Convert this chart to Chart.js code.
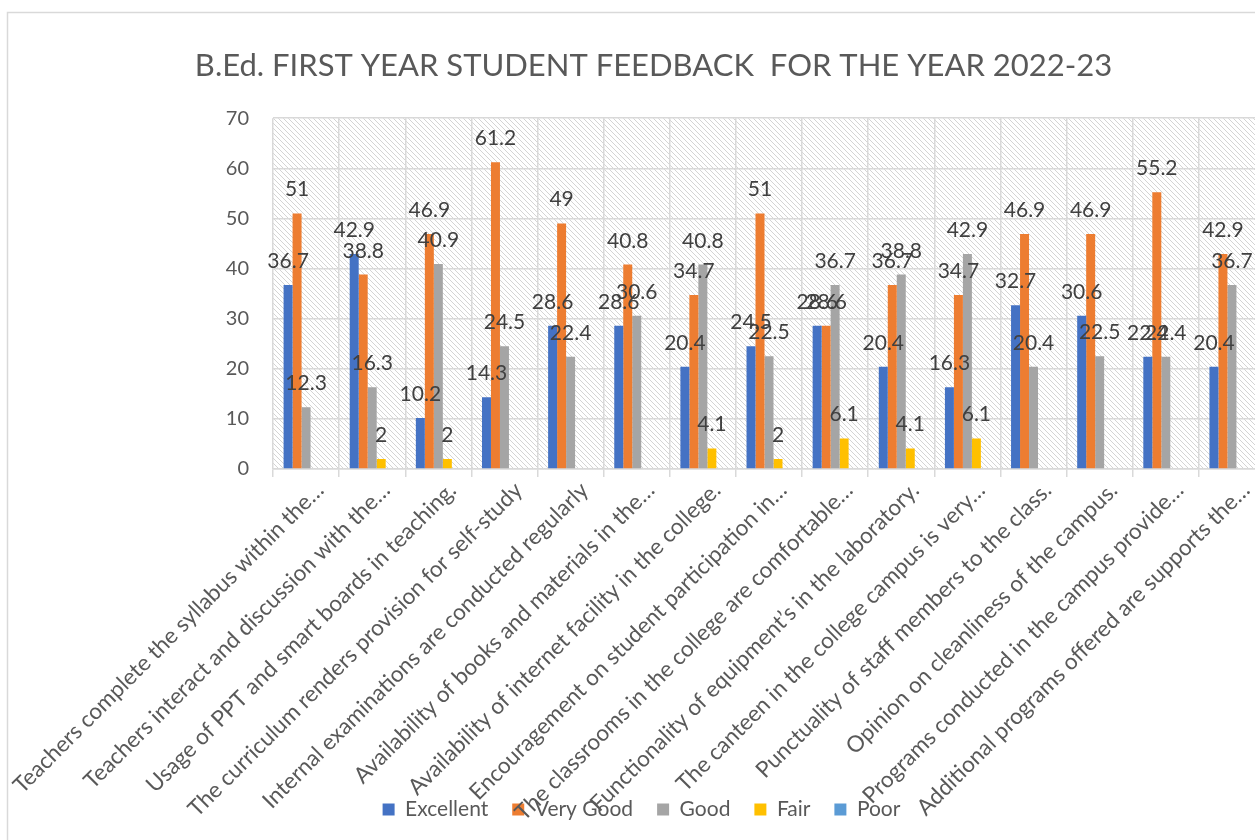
<!DOCTYPE html>
<html>
<head>
<meta charset="utf-8">
<script src="https://cdn.jsdelivr.net/npm/chart.js@4.4.1/dist/chart.umd.min.js"></script>
<style>
  html, body { margin: 0; padding: 0; overflow: hidden; background: #fff; }
  #wrap { width: 1300px; height: 840px; }
</style>
</head>
<body>
<div id="wrap"><canvas id="myChart"></canvas></div>
<script>
const categories = [
  "Teachers complete the syllabus within the…",
  "Teachers interact and discussion with the…",
  "Usage of PPT and smart boards in teaching.",
  "The curriculum renders provision for self-study",
  "Internal examinations are conducted regularly",
  "Availability of books and materials in the…",
  "Availability of internet facility in the college.",
  "Encouragement on student participation in…",
  "The classrooms in the college are comfortable…",
  "Functionality of equipment’s in the laboratory.",
  "The canteen in the college campus is very…",
  "Punctuality of staff members to the class.",
  "Opinion on cleanliness of the campus.",
  "Programs conducted in the campus provide…",
  "Additional programs offered are supports the…"
];
const excellent = [36.7, 42.9, 10.2, 14.3, 28.6, 28.6, 20.4, 24.5, 28.6, 20.4, 16.3, 32.7, 30.6, 22.4, 20.4];
const veryGood = [51, 38.8, 46.9, 61.2, 49, 40.8, 34.7, 51, 28.6, 36.7, 34.7, 46.9, 46.9, 55.2, 42.9];
const good = [12.3, 16.3, 40.9, 24.5, 22.4, 30.6, 40.8, 22.5, 36.7, 38.8, 42.9, 20.4, 22.5, 22.4, 36.7];
const fair = [0, 2, 2, 0, 0, 0, 4.1, 2, 6.1, 4.1, 6.1, 0, 0, 0, 0];
const poor = [0, 0, 0, 0, 0, 0, 0, 0, 0, 0, 0, 0, 0, 0, 0];
const yTicks = [0, 10, 20, 30, 40, 50, 60, 70];

const FONT = "Lato, 'Noto Sans', sans-serif";
const TEXT = "#595959";
const GRID = "#d9d9d9";
const BOTTOM_PAD = 10;

// hatched plot background, lines like "\\\"
const makeHatch = () => {
  const c = document.createElement("canvas");
  c.width = 5;
  c.height = 5;
  const g = c.getContext("2d");
  g.fillStyle = "#fff";
  g.fillRect(0, 0, 5, 5);
  g.fillStyle = "#d4d4d4";
  for (let i = 0; i < 5; i++) g.fillRect(i, i, 1, 1);
  return g.createPattern(c, "repeat");
};

const hatchPlugin = {
  id: "hatch",
  afterLayout(chart) {
    // let the rotated labels run down over the legend, like the original
    chart.scales.x.bottom = chart.height;
    // Excel centres title / legend a bit to the right of ours
    chart.titleBlock.left += 21;
    chart.titleBlock.right += 21;
    chart.legend.left += 9;
    chart.legend.right += 9;
  },
  beforeDraw(chart) {
    const { ctx, chartArea: a } = chart;
    ctx.save();
    ctx.fillStyle = makeHatch();
    ctx.fillRect(a.left, a.top, a.right - a.left, a.bottom - a.top);
    ctx.restore();
  },
  afterDraw(chart) {
    // outer chart frame
    const ctx = chart.ctx;
    ctx.save();
    ctx.strokeStyle = GRID;
    ctx.lineWidth = 1.5;
    ctx.strokeRect(7.5, 12.5, 1400, 1000);
    ctx.restore();
  }
};

const valueLabels = {
  id: "valueLabels",
  afterDatasetsDraw(chart) {
    const ctx = chart.ctx;
    ctx.save();
    ctx.font = "21px " + FONT;
    ctx.fillStyle = "#404040";
    ctx.textAlign = "center";
    ctx.textBaseline = "alphabetic";
    chart.data.datasets.forEach((ds, i) => {
      const meta = chart.getDatasetMeta(i);
      meta.data.forEach((bar, j) => {
        const v = ds.data[j];
        if (!v) return;
        ctx.fillText(String(v), bar.x, bar.y - 17);
      });
    });
    ctx.restore();
  }
};

const data = {
  labels: categories,
  datasets: [
    { label: "Excellent", data: excellent, backgroundColor: "#4472C4" },
    { label: "Very Good", data: veryGood, backgroundColor: "#ED7D31" },
    { label: "Good", data: good, backgroundColor: "#A5A5A5" },
    { label: "Fair", data: fair, backgroundColor: "#FFC000" },
    { label: "Poor", data: poor, backgroundColor: "#5B9BD5" }
  ]
};

new Chart(document.getElementById("myChart"), {
  type: "bar",
  data,
  plugins: [hatchPlugin, valueLabels],
  options: {
    responsive: true,
    maintainAspectRatio: false,
    animation: false,
    datasets: { bar: { categoryPercentage: 0.68, barPercentage: 1 } },
    layout: { padding: { left: 0, right: 35, top: 0, bottom: BOTTOM_PAD } },
    plugins: {
      tooltip: { enabled: false },
      title: {
        display: true,
        text: "B.Ed. FIRST YEAR STUDENT FEEDBACK  FOR THE YEAR 2022-23",
        color: TEXT,
        font: { family: FONT, size: 31, weight: "normal", lineHeight: 1.2 },
        padding: { top: 47, bottom: 34 }
      },
      legend: {
        position: "bottom",
        labels: {
          color: TEXT,
          font: { family: FONT, size: 21 },
          boxWidth: 12,
          boxHeight: 12,
          padding: 24
        }
      }
    },
    scales: {
      x: {
        grid: { color: GRID, lineWidth: 1.5, offset: true, drawTicks: true, tickLength: 8 },
        border: { display: true, color: GRID, width: 1.5 },
        ticks: {
          color: TEXT,
          font: { family: FONT, size: 22.5 },
          autoSkip: false,
          maxRotation: 45,
          minRotation: 45,
          labelOffset: 14,
          padding: 0
        },
        afterFit(scale) {
          scale.paddingLeft = 0;
          scale.paddingRight = 0;
          scale.height = scale.chart.height - 469 - scale.chart.legend.height - BOTTOM_PAD;
        }
      },
      y: {
        min: 0,
        max: 70,
        grid: { color: GRID, lineWidth: 1.5, drawTicks: false },
        border: { display: false },
        afterBuildTicks(scale) {
          scale.ticks = yTicks.map((v) => ({ value: v }));
        },
        ticks: {
          color: TEXT,
          font: { family: FONT, size: 20 },
          padding: 24
        },
        afterFit(scale) {
          scale.width = 273;
        }
      }
    }
  }
});
</script>
</body>
</html>
